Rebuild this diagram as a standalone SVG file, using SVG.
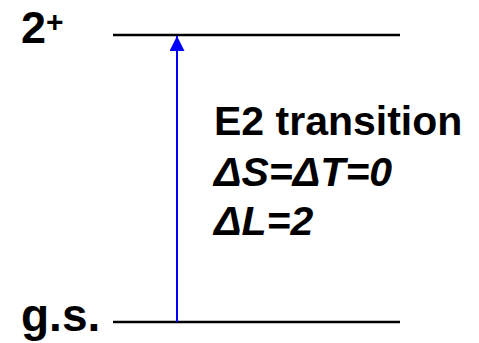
<svg xmlns="http://www.w3.org/2000/svg" width="479" height="343" viewBox="0 0 479 343">
<style>
.t{font-family:"Liberation Sans",Arial,sans-serif;font-weight:bold;fill:#000}
.i{font-style:italic}
.lvl{stroke:#000;stroke-width:2.5;fill:none}
</style>
<defs>
<marker id="ah" markerUnits="userSpaceOnUse" markerWidth="16" markerHeight="16" refX="15" refY="7.5" orient="auto">
<path d="M0,0 L15,7.5 L0,15 Z" fill="#0000ff"/>
</marker>
</defs>
<rect width="479" height="343" fill="#fff"/>
<g id="level-2plus">
<line class="lvl" x1="113" y1="35" x2="400" y2="35"/>
<text class="t" x="21" y="43" font-size="45">2<tspan font-size="30" dy="-11">+</tspan></text>
</g>
<g id="level-gs">
<line class="lvl" x1="113" y1="322" x2="400" y2="322"/>
<text class="t" x="21" y="331" font-size="46">g.s.</text>
</g>
<g id="connectors">
<line x1="177" y1="322" x2="177" y2="36" stroke="#0000ff" stroke-width="2" marker-end="url(#ah)"/>
</g>
<g id="label">
<text class="t" x="214" y="135" font-size="41">E2 transition</text>
<text class="t i" x="214" y="186" font-size="41">ΔS=ΔT=0</text>
<text class="t i" x="214" y="235" font-size="41">ΔL=2</text>
</g>
</svg>
